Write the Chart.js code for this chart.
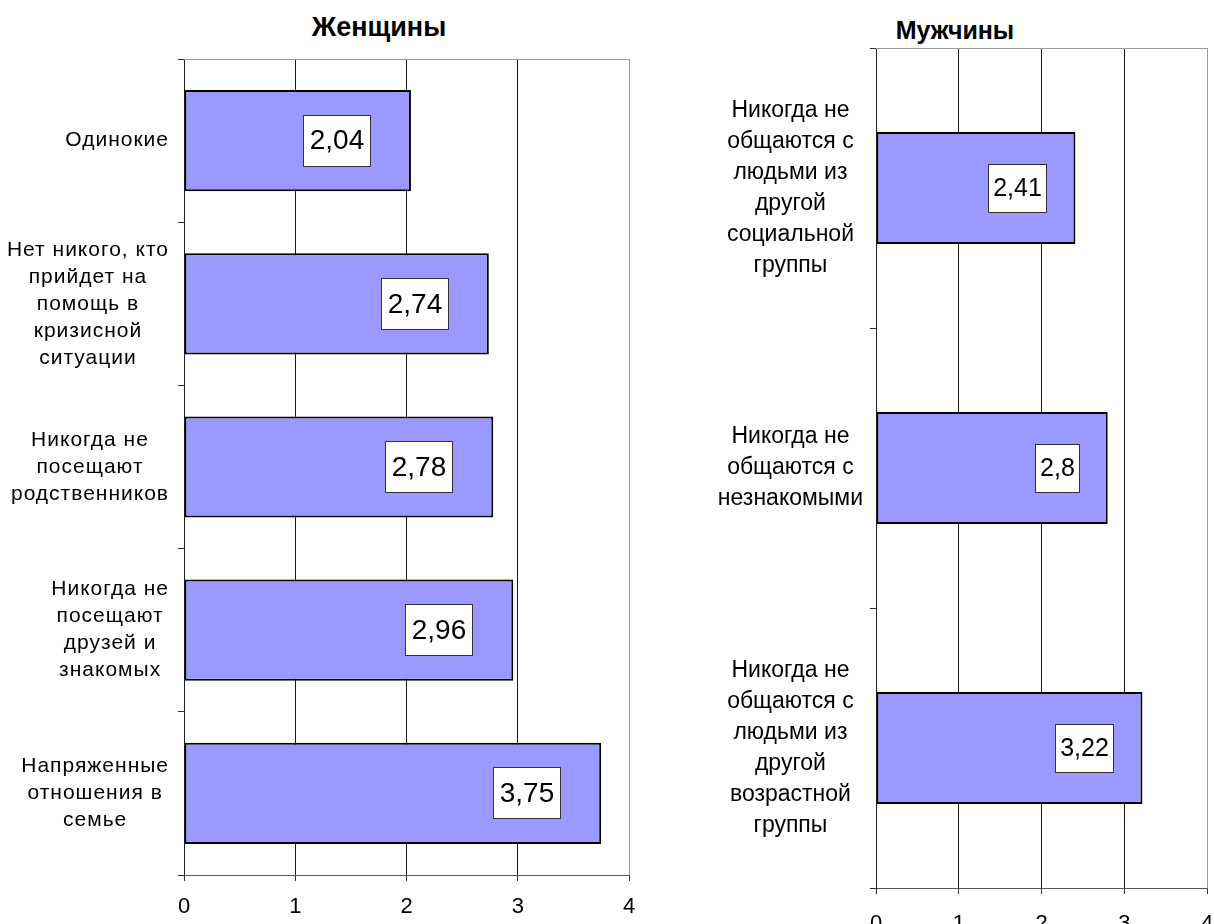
<!DOCTYPE html>
<html lang="ru">
<head>
<meta charset="utf-8">
<script src="https://cdn.jsdelivr.net/npm/chart.js@4"></script>
<style>
  html, body { margin: 0; padding: 0; background: #fff; width: 1214px; height: 924px; overflow: hidden; }
  .panel { position: absolute; top: 0; height: 924px; }
  .panel canvas { position: absolute; top: 0; left: 0; }
  .title { position: absolute; font-family: "Liberation Sans", Arial, sans-serif; font-weight: bold;
           text-align: center; color: #000; white-space: nowrap; }
</style>
</head>
<body>
<div class="title" style="left:279px; width:200px; top:11px; font-size:27px; line-height:32px;">Женщины</div>
<div class="title" style="left:855px; width:200px; top:15px; font-size:25px; line-height:30px;">Мужчины</div>
<div class="panel" style="left:0; width:650px;"><canvas id="women" width="650" height="924"></canvas></div>
<div class="panel" style="left:650px; width:600px;"><canvas id="men" width="600" height="924"></canvas></div>
<script>
// Women: reasons for loneliness, mean scores
const womenCategories = [
  ["Одинокие"],
  ["Нет никого, кто", "прийдет на", "помощь в", "кризисной", "ситуации"],
  ["Никогда не", "посещают", "родственников"],
  ["Никогда не", "посещают", "друзей и", "знакомых"],
  ["Напряженные", "отношения в", "семье"]
];
const womenValues = [2.04, 2.74, 2.78, 2.96, 3.75];

// Men: mean scores
const menCategories = [
  ["Никогда не", "общаются с", "людьми из", "другой", "социальной", "группы"],
  ["Никогда не", "общаются с", "незнакомыми"],
  ["Никогда не", "общаются с", "людьми из", "другой", "возрастной", "группы"]
];
const menValues = [2.41, 2.8, 3.22];

// Value axis ticks shared by both panels
const valueTicks = [0, 1, 2, 3, 4];

const FONT = '"Liberation Sans", Arial, sans-serif';

// Gray frame line along the top of the plot area
const framePlugin = {
  id: 'frame',
  beforeDatasetsDraw(chart) {
    const { ctx, chartArea: a } = chart;
    ctx.save();
    ctx.strokeStyle = '#9a9a9a';
    ctx.lineWidth = 1;
    ctx.beginPath();
    ctx.moveTo(a.left, Math.round(a.top) + 0.5);
    ctx.lineTo(a.right, Math.round(a.top) + 0.5);
    ctx.stroke();
    ctx.restore();
  }
};

// Multi-line category labels drawn next to the category axis.
// shared: all blocks share one centre line; otherwise each block is
// centred on its own widest line and right-aligned against the axis.
const categoryLabelPlugin = {
  id: 'categoryLabels',
  afterDraw(chart, args, opts) {
    const y = chart.scales.y;
    const ctx = chart.ctx;
    ctx.save();
    ctx.font = `${opts.size}px ${FONT}`;
    if ('letterSpacing' in ctx) ctx.letterSpacing = opts.spacing + 'px';
    ctx.fillStyle = '#000';
    ctx.textAlign = 'center';
    ctx.textBaseline = 'middle';
    const widths = chart.data.labels.map(lines => Math.max(...lines.map(l => ctx.measureText(l).width)));
    const maxWidth = Math.max(...widths);
    chart.data.labels.forEach((lines, i) => {
      const cy = y.getPixelForTick(i);
      const w = opts.shared ? maxWidth : widths[i];
      const cx = y.right - opts.gap - w / 2;
      lines.forEach((line, j) => {
        ctx.fillText(line, cx, cy + (j - (lines.length - 1) / 2) * opts.lineHeight);
      });
    });
    ctx.restore();
  }
};

// Boxed value labels near the end of each bar
const valueLabelPlugin = {
  id: 'valueLabels',
  afterDatasetsDraw(chart, args, opts) {
    const ctx = chart.ctx;
    const meta = chart.getDatasetMeta(0);
    const values = chart.data.datasets[0].data;
    ctx.save();
    ctx.font = `${opts.size}px ${FONT}`;
    ctx.textAlign = 'center';
    ctx.textBaseline = 'middle';
    meta.data.forEach((bar, i) => {
      const text = String(values[i]).replace('.', ',');
      const w = Math.round(ctx.measureText(text).width + 2 * opts.padX);
      const h = Math.round(opts.size + 2 * opts.padY);
      const left = Math.round(bar.x - opts.gap - w);
      const top = Math.round(bar.y - h / 2);
      ctx.fillStyle = '#fff';
      ctx.fillRect(left, top, w, h);
      ctx.strokeStyle = '#333';
      ctx.lineWidth = 1;
      ctx.strokeRect(left + 0.5, top + 0.5, w - 1, h - 1);
      ctx.fillStyle = '#000';
      ctx.fillText(text, left + w / 2, bar.y + 1);
    });
    ctx.restore();
  }
};

function buildChart(id, labels, values, L) {
  return new Chart(document.getElementById(id), {
    type: 'bar',
    data: {
      labels: labels,
      datasets: [{
        data: values,
        backgroundColor: '#9999ff',
        borderColor: '#000',
        borderWidth: 2,
        borderSkipped: false,
        barPercentage: L.bar,
        categoryPercentage: 1
      }]
    },
    options: {
      indexAxis: 'y',
      responsive: false,
      animation: false,
      events: [],
      layout: { padding: { top: L.top, right: L.right, bottom: 0, left: 0 } },
      plugins: {
        legend: { display: false },
        title: { display: false },
        tooltip: { enabled: false },
        categoryLabels: { size: L.catSize, lineHeight: L.catLine, gap: L.catGap, spacing: L.catSpacing, shared: L.shared },
        valueLabels: { size: L.valSize, padX: L.valPadX, padY: 12, gap: L.valGap }
      },
      scales: {
        x: {
          type: 'linear',
          min: 0,
          max: 4,
          afterBuildTicks: s => { s.ticks = valueTicks.map(v => ({ value: v })); },
          afterFit: s => { s.height = L.xHeight; },
          grid: {
            color: c => (c.tick && c.tick.value === 4 ? '#9a9a9a' : '#1a1a1a'),
            lineWidth: 1,
            drawTicks: true,
            tickLength: 6,
            tickColor: '#333'
          },
          border: { color: '#555', width: 1 },
          ticks: { font: { family: FONT, size: 22 }, color: '#000', padding: L.xPad, maxRotation: 0 }
        },
        y: {
          afterFit: s => { s.width = L.yWidth; },
          grid: { drawOnChartArea: false, drawTicks: true, tickLength: 6, color: '#333' },
          border: { color: '#222', width: 1 },
          ticks: { display: false }
        }
      }
    },
    plugins: [framePlugin, categoryLabelPlugin, valueLabelPlugin]
  });
}

buildChart('women', womenCategories, womenValues, {
  top: 59, right: 21, yWidth: 184, xHeight: 49, xPad: 13, bar: 0.62,
  catSize: 21, catLine: 27, catGap: 15, catSpacing: 1, shared: false,
  valSize: 28, valPadX: 7, valGap: 40
});

buildChart('men', menCategories, menValues, {
  top: 48, right: 43, yWidth: 226, xHeight: 36, xPad: 17, bar: 0.4,
  catSize: 23, catLine: 31, catGap: 13, catSpacing: 0, shared: true,
  valSize: 25, valPadX: 5, valGap: 28
});
</script>
</body>
</html>
